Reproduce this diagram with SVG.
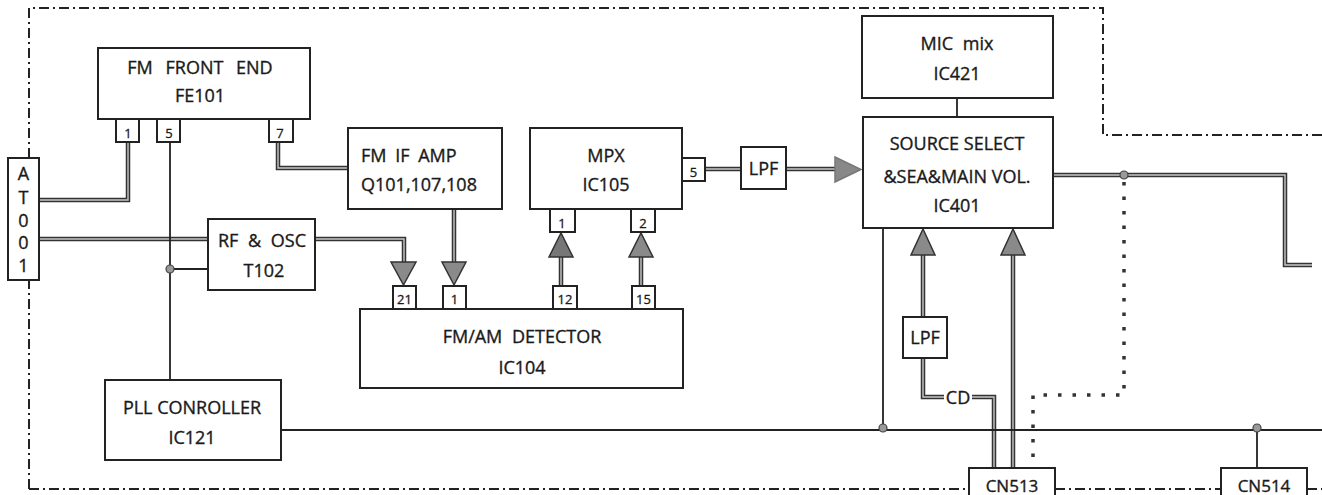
<svg xmlns="http://www.w3.org/2000/svg" width="1322" height="495" viewBox="0 0 1322 495">
<style>
  .box { fill: #fff; stroke: #222; stroke-width: 2; }
  .t { font-family: "Open Sans", "Noto Sans", sans-serif; font-size: 18px; fill: #1a1a1a; stroke: #1a1a1a; stroke-width: 0.35; text-anchor: middle; dominant-baseline: central; }
  .ts { text-anchor: start; }
  .pin { font-family: "Open Sans", "Noto Sans", sans-serif; font-size: 13px; fill: #1a1a1a; stroke: #1a1a1a; stroke-width: 0.3; text-anchor: middle; dominant-baseline: central; }
  .thin { fill: none; stroke: #222; stroke-width: 1.8; }
  .thickO { fill: none; stroke: #333; stroke-width: 4.5; stroke-linejoin: miter; }
  .thickI { fill: none; stroke: #c8c8c8; stroke-width: 1.4; stroke-linejoin: miter; }
  .arrow { fill: #8a8a8a; stroke: #333; stroke-width: 1.5; stroke-linejoin: miter; }
  .dot { fill: #999; stroke: #444; stroke-width: 1.2; }
  .border { fill: none; stroke: #222; stroke-width: 2; stroke-dasharray: 10 4 2 4; }
  .dotted { fill: none; stroke: #333; stroke-width: 3.5; stroke-dasharray: 3.5 11; }
</style>

<g id="border">
  <path class="border" d="M29,489 V280 M29,158 V8 H1103 V135 H1322 M29,489 H969 M1055,489 H1221 M1307,489 H1322"/>
</g>

<g id="connectors">
  <g id="thick-lines">
    <path class="thickO" d="M39,200 H128 V142 M39,239 H208 M315,239 H404 V262 M278,142 V168 H348 M454,209 V262 M561,286 V257 M641,286 V257 M705,169 H741 M786,169 H836 M1053,175 H1285 V265 H1312 M923,317 V255 M923,358 V397 H944 M972,397 H994 V468 M1013,468 V255"/>
    <path class="thickI" d="M39,200 H128 V142 M39,239 H208 M315,239 H404 V262 M278,142 V168 H348 M454,209 V262 M561,286 V257 M641,286 V257 M705,169 H741 M786,169 H836 M1053,175 H1285 V265 H1312 M923,317 V255 M923,358 V397 H944 M972,397 H994 V468 M1013,468 V255"/>
  </g>
  <path class="thin" d="M170,142 V380 M170,269 H208 M281,430 H1322 M883,228 V428 M957,98 V117 M1257,428 V468"/>
  <path class="dotted" d="M1124,182 V395 H1033 V462"/>
  <polygon class="arrow" points="391,262 416,262 403.5,285"/>
  <polygon class="arrow" points="442,262 466,262 454,285"/>
  <polygon class="arrow" points="549,257 573,257 561,233" style="fill:#777"/>
  <polygon class="arrow" points="629,257 653,257 641,233"/>
  <polygon class="arrow" points="835,157 835,182 861,169.5" style="fill:#888;stroke:#777"/>
  <polygon class="arrow" points="911,255 935,255 923,229"/>
  <polygon class="arrow" points="1001,255 1025,255 1013,229"/>
  <circle class="dot" cx="170" cy="269" r="4"/>
  <circle class="dot" cx="883" cy="428" r="4"/>
  <circle class="dot" cx="1257" cy="428" r="4"/>
  <circle class="dot" cx="1124" cy="175" r="4"/>
</g>

<g id="AT001">
  <rect class="box" x="8" y="158" width="31" height="122"/>
  <text class="t" x="23.5" y="173">A</text>
  <text class="t" x="23.5" y="197">T</text>
  <text class="t" x="23.5" y="220">0</text>
  <text class="t" x="23.5" y="242">0</text>
  <text class="t" x="23.5" y="265">1</text>
</g>

<g id="FE101">
  <rect class="box" x="98" y="48" width="212" height="71"/>
  <text class="t" x="200" y="67" word-spacing="8">FM FRONT END</text>
  <text class="t" x="200" y="95">FE101</text>
  <rect class="box" x="116" y="119" width="23" height="23"/>
  <text class="pin" x="128" y="133">1</text>
  <rect class="box" x="157" y="119" width="23" height="23"/>
  <text class="pin" x="169" y="133">5</text>
  <rect class="box" x="269" y="119" width="24" height="23"/>
  <text class="pin" x="280" y="133">7</text>
</g>

<g id="FMIFAMP">
  <rect class="box" x="348" y="128" width="154" height="81"/>
  <text class="t ts" x="361" y="155" word-spacing="4">FM IF AMP</text>
  <text class="t ts" x="361" y="184">Q101,107,108</text>
</g>

<g id="MPX">
  <rect class="box" x="530" y="128" width="152" height="81"/>
  <text class="t" x="606" y="155">MPX</text>
  <text class="t" x="606" y="184">IC105</text>
  <rect class="box" x="682" y="158" width="23" height="23"/>
  <text class="pin" x="693.5" y="172">5</text>
  <rect class="box" x="550" y="209" width="25" height="23"/>
  <text class="pin" x="562" y="223">1</text>
  <rect class="box" x="631" y="209" width="24" height="23"/>
  <text class="pin" x="643" y="223">2</text>
</g>

<g id="LPF1">
  <rect class="box" x="741" y="147" width="45" height="42"/>
  <text class="t" x="763.5" y="168">LPF</text>
</g>

<g id="RFOSC">
  <rect class="box" x="208" y="219" width="107" height="71"/>
  <text class="t" x="262" y="240" word-spacing="5">RF &amp; OSC</text>
  <text class="t" x="264" y="270">T102</text>
</g>

<g id="IC104">
  <rect class="box" x="360" y="309" width="323" height="79"/>
  <text class="t" x="522" y="336" word-spacing="5">FM/AM DETECTOR</text>
  <text class="t" x="522" y="367">IC104</text>
  <rect class="box" x="393" y="286" width="23" height="23"/>
  <text class="pin" x="404.5" y="299">21</text>
  <rect class="box" x="443" y="286" width="23" height="23"/>
  <text class="pin" x="454.5" y="299">1</text>
  <rect class="box" x="553" y="286" width="24" height="23"/>
  <text class="pin" x="565" y="299">12</text>
  <rect class="box" x="632" y="286" width="23" height="23"/>
  <text class="pin" x="643.5" y="299">15</text>
</g>

<g id="IC121">
  <rect class="box" x="105" y="380" width="176" height="80"/>
  <text class="t" x="192" y="407">PLL CONROLLER</text>
  <text class="t" x="192" y="437">IC121</text>
</g>

<g id="IC421">
  <rect class="box" x="862" y="16" width="191" height="82"/>
  <text class="t" x="957" y="43" word-spacing="5">MIC mix</text>
  <text class="t" x="957" y="73">IC421</text>
</g>

<g id="IC401">
  <rect class="box" x="863" y="117" width="190" height="111"/>
  <text class="t" x="957" y="143">SOURCE SELECT</text>
  <text class="t" x="957" y="176">&amp;SEA&amp;MAIN VOL.</text>
  <text class="t" x="957" y="205">IC401</text>
</g>

<g id="LPF2">
  <rect class="box" x="903" y="317" width="44" height="41"/>
  <text class="t" x="925" y="337">LPF</text>
</g>

<g id="CD">
  <text class="t" x="958" y="397">CD</text>
</g>

<g id="CN513">
  <rect class="box" x="969" y="468" width="86" height="32"/>
  <text class="t" x="1012" y="492" style="dominant-baseline:alphabetic;font-size:17px">CN513</text>
</g>

<g id="CN514">
  <rect class="box" x="1221" y="468" width="86" height="32"/>
  <text class="t" x="1264" y="492" style="dominant-baseline:alphabetic;font-size:17px">CN514</text>
</g>
</svg>
